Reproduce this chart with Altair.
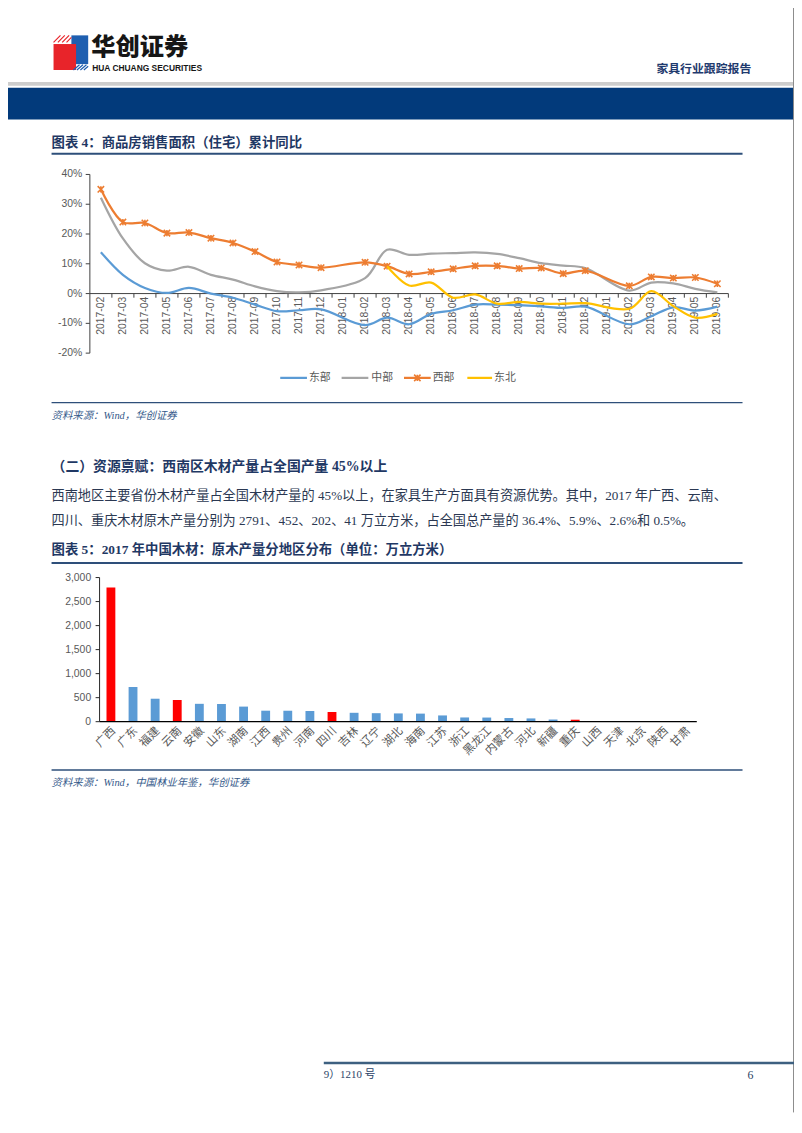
import altair as alt
import pandas as pd

# ---------------- data ----------------
months = ["2017-02", "2017-03", "2017-04", "2017-05", "2017-06", "2017-07", "2017-08",
          "2017-09", "2017-10", "2017-11", "2017-12", "2018-01", "2018-02", "2018-03",
          "2018-04", "2018-05", "2018-06", "2018-07", "2018-08", "2018-09", "2018-10",
          "2018-11", "2018-12", "2019-01", "2019-02", "2019-03", "2019-04", "2019-05",
          "2019-06"]
east = [13.9, 6.3, 1.9, 0.2, 1.9, 0.0, -1.4, -3.7, -5.9, -5.6, -5.3,
        None, -10.6, -8.1, -10.3, -6.8, -5.6, -3.7, -3.7, -3.9, -4.3, -4.8, -4.4,
        None, -10.3, -7.6, -4.6, -5.7, -4.4]
central = [32.2, 18.5, 10.2, 7.7, 9.0, 6.3, 4.7, 2.4, 0.8, 0.4, 1.1,
           None, 5.2, 14.7, 13.0, 13.4, 13.6, 13.8, 13.3, 11.9, 10.2, 9.4, 8.6,
           None, 1.0, 3.7, 3.4, 1.6, 0.4]
west = [35.0, 24.0, 23.7, 20.3, 20.5, 18.6, 17.0, 14.1, 10.6, 9.6, 8.7,
        None, 10.5, 9.2, 6.6, 7.3, 8.3, 9.3, 9.3, 8.4, 8.6, 6.7, 7.7,
        None, 2.6, 5.6, 5.2, 5.4, 3.3]
northeast = [None, None, None, None, None, None, None, None, None, None, None,
             None, None, 9.2, 2.7, 3.7, -1.4, -0.3, -3.4, -2.8, -3.4, -3.4, -3.2,
             None, -5.1, 0.8, -4.2, -8.1, -6.8]
series_names = ["东部", "中部", "西部", "东北"]
series_colors = ["#5b9bd5", "#a5a5a5", "#ed7d31", "#ffc000"]
pct_ticks = [-20, -10, 0, 10, 20, 30, 40]
pct_labels = ["-20%", "-10%", "0%", "10%", "20%", "30%", "40%"]

regions = ["广西", "广东", "福建", "云南", "安徽", "山东", "湖南", "江西", "贵州", "河南",
           "四川", "吉林", "辽宁", "湖北", "海南", "江苏", "浙江", "黑龙江", "内蒙古", "河北",
           "新疆", "重庆", "山西", "天津", "北京", "陕西", "甘肃"]
output = [2791, 722, 478, 452, 372, 368, 314, 229, 228, 222,
          202, 185, 177, 172, 168, 130, 88, 86, 76, 68,
          45, 41, 12, 3, 2, 1, 0.5]
highlight = ["广西", "云南", "四川", "重庆"]
vol_ticks = [0, 500, 1000, 1500, 2000, 2500, 3000]

# ---------------- helpers ----------------
OFF = 8  # page margin


def PX(v):
    return v - OFF


def PY(v):
    return v - OFF


one = pd.DataFrame({"k": [0]})
CJK = "Noto Sans CJK SC"
SERIF = "Liberation Serif, Noto Sans CJK SC"
NAVY = "#1f3864"


def txt(t, x, y, size=12, color="#000000", weight="normal", font=SERIF,
        align="left", style="normal", baseline="middle"):
    return alt.Chart(one).mark_text(
        text=t, fontSize=size, color=color, fontWeight=weight, font=font,
        align=align, baseline=baseline, fontStyle=style
    ).encode(x=alt.value(PX(x)), y=alt.value(PY(y)))


def hline(x1, x2, y, color, w=1.0):
    return alt.Chart(one).mark_rule(color=color, strokeWidth=w).encode(
        x=alt.value(PX(x1)), x2=alt.value(PX(x2)), y=alt.value(PY(y)))


def vline(x, y1, y2, color, w=1.0):
    return alt.Chart(one).mark_rule(color=color, strokeWidth=w).encode(
        x=alt.value(PX(x)), y=alt.value(PY(y1)), y2=alt.value(PY(y2)))


def box(x1, x2, y1, y2, color):
    return alt.Chart(one).mark_rect(color=color).encode(
        x=alt.value(PX(x1)), x2=alt.value(PX(x2)),
        y=alt.value(PY(y1)), y2=alt.value(PY(y2)))


def sym(path, x, y, size, color, filled=True, w=1.0):
    kw = dict(shape=path, size=size, opacity=1)
    if filled:
        kw.update(filled=True, fill=color, strokeWidth=0)
    else:
        kw.update(filled=False, stroke=color, strokeWidth=w)
    return alt.Chart(one).mark_point(**kw).encode(
        x=alt.value(PX(x)), y=alt.value(PY(y)))


STAR = "M-1,-1L1,1M-1,1L1,-1M0,-1L0,1"

# ---------------- page header ----------------
header = [
    sym("M0.03,-1 L1,-1 L1,0.66 L0.03,0.66 Z", 71.5, 47.5, 1225, "#1f5fb0"),
    sym("M-1,-0.5 L0.3,-0.5 L0.3,1 L-1,1 Z", 71.5, 47.5, 1225, "#e8242a"),
    sym("M-1,-0.6 L-0.6,-1 M-0.75,-0.6 L-0.35,-1 M-0.5,-0.6 L-0.1,-1 M-0.25,-0.6 L0.03,-0.88",
        71.5, 47.5, 1225, "#e8242a", filled=False, w=1.2),
    sym("M0.35,1 L0.7,0.7 M0.55,1 L0.9,0.7 M0.75,1 L1,0.78 M0.15,1 L0.5,0.7",
        71.5, 47.5, 1225, "#1f5fb0", filled=False, w=1.2),
    txt("华创证券", 92, 43, size=24.5, weight=900, font=CJK, color="#161616"),
    txt("HUA CHUANG SECURITIES", 93, 62.5, size=8.5, weight="bold",
        font="Liberation Sans Narrow, Liberation Sans", color="#161616"),
    txt("家具行业跟踪报告", 663, 64, size=12, weight="bold", color="#1f3a6e"),
    box(0, 802, 77, 81, "#cdcdcd"),
    box(0, 802, 83, 115, "#023a7b"),
    vline(801.5, 0, 1118, "#8c8c8c", 1),
]

# ---------------- figure 4 frame ----------------
frame1 = [
    txt("图表 4：商品房销售面积（住宅）累计同比", 52, 139, size=13.5, weight="bold", color=NAVY),
    hline(52, 750, 149.5, "#2e4f7a", 2),
    hline(52, 750, 401, "#2e4f7a", 1.5),
    txt("资料来源：Wind，华创证券", 52, 415, size=10.5, style="italic", color="#34598a"),
]

# ---------------- line chart ----------------
xs1 = alt.Scale(type="point", domain=months, range=[PX(90.7), PX(735.7)], padding=0.5)
ys1 = alt.Scale(domain=[-20, 40], range=[PY(351), PY(170.5)], nice=False, zero=False)

line_layers = []
for name, vals, col in zip(series_names, [east, central, west, northeast], series_colors):
    df = pd.DataFrame({"month": months, "value": vals}).dropna()
    line_layers.append(
        alt.Chart(df).mark_line(color=col, strokeWidth=2.25, interpolate="catmull-rom").encode(
            x=alt.X("month:N", scale=xs1, axis=None),
            y=alt.Y("value:Q", scale=ys1, axis=None),
        )
    )
    if name == "西部":
        line_layers.append(
            alt.Chart(df).mark_point(shape=STAR, size=42, filled=False, stroke=col,
                                     strokeWidth=1.6, opacity=1).encode(
                x=alt.X("month:N", scale=xs1, axis=None),
                y=alt.Y("value:Q", scale=ys1, axis=None),
            )
        )

tick_df1 = pd.DataFrame({"v": pct_ticks, "lab": pct_labels})
mon_df = pd.DataFrame({"month": months})
AX = "#404040"
axis1 = [
    alt.Chart(one).mark_rule(color=AX, strokeWidth=1).encode(
        x=alt.value(PX(90.7)), y=alt.value(PY(170.5)), y2=alt.value(PY(351))),
    alt.Chart(one).mark_rule(color=AX, strokeWidth=1).encode(
        x=alt.value(PX(90.7)), x2=alt.value(PX(735.7)), y=alt.Y("k:Q", scale=ys1, axis=None)),
    alt.Chart(tick_df1).mark_rule(color=AX, strokeWidth=1).encode(
        y=alt.Y("v:Q", scale=ys1, axis=None), x=alt.value(PX(86.5)), x2=alt.value(PX(90.7))),
    alt.Chart(tick_df1).mark_text(align="right", baseline="middle", fontSize=10.5,
                                  font="Liberation Sans", color="#595959").encode(
        y=alt.Y("v:Q", scale=ys1, axis=None), x=alt.value(PX(83)), text="lab:N"),
    alt.Chart(mon_df).mark_rule(color=AX, strokeWidth=1, xOffset=11.12).encode(
        x=alt.X("month:N", scale=xs1, axis=None),
        y=alt.value(PY(290.8)), y2=alt.value(PY(295))),
    alt.Chart(mon_df).mark_text(angle=270, align="right", baseline="middle", fontSize=10.5,
                                font="Liberation Sans", color="#595959").encode(
        x=alt.X("month:N", scale=xs1, axis=None), y=alt.value(PY(294)), text="month:N"),
]

legend_pos = [(283, 310, 312), (345, 372, 375), (408, 435, 437), (472, 497, 499)]
legend1 = []
for name, col, (a, b, t) in zip(series_names, series_colors, legend_pos):
    legend1.append(hline(a, b, 376, col, 2.25))
    if name == "西部":
        legend1.append(sym(STAR, (a + b) / 2, 376, 42, col, filled=False, w=1.6))
    legend1.append(txt(name, t, 376.5, size=11, font=CJK, color="#595959"))

line_chart = alt.layer(*axis1, *line_layers)

# ---------------- section text ----------------
section = [
    txt("（二）资源禀赋：西南区木材产量占全国产量 45%以上", 52, 466, size=14,
        weight="bold", color=NAVY),
    txt("西南地区主要省份木材产量占全国木材产量的 45%以上，在家具生产方面具有资源优势。其中，2017 年广西、云南、",
        52, 495, size=13.3, color="#2b3852"),
    txt("四川、重庆木材原木产量分别为 2791、452、202、41 万立方米，占全国总产量的 36.4%、5.9%、2.6%和 0.5%。",
        52, 521, size=13.3, color="#2b3852"),
    txt("图表 5：2017 年中国木材：原木产量分地区分布（单位：万立方米）", 52, 550, size=13.5,
        weight="bold", color=NAVY),
    hline(52, 750, 563, "#2e4f7a", 2),
    hline(52, 750, 772, "#2e4f7a", 1.5),
    txt("资料来源：Wind，中国林业年鉴，华创证券", 52, 785, size=10.5, style="italic", color="#34598a"),
    hline(327, 802, 1068, "#3d6080", 2.5),
    txt("9）1210 号", 327, 1080, size=11, color="#2b3f66"),
    txt("6", 755, 1080, size=12, color="#2b3f66"),
]

# ---------------- bar chart ----------------
xs2 = alt.Scale(type="band", domain=regions, range=[PX(100.8), PX(703.8)],
                paddingInner=0.6, paddingOuter=0.3)
ys2 = alt.Scale(domain=[0, 3000], range=[PY(723.3), PY(577.7)], nice=False, zero=False)
bar_df = pd.DataFrame({"region": regions, "value": output})
vt_df = pd.DataFrame({"v": vol_ticks})

bar_color = alt.when(alt.FieldOneOfPredicate(field="region", oneOf=highlight)).then(
    alt.value("#ff0000")).otherwise(alt.value("#5b9bd5"))

bars = alt.Chart(bar_df).mark_bar().encode(
    x=alt.X("region:N", scale=xs2, axis=None),
    y=alt.Y("value:Q", scale=ys2, axis=None),
    y2=alt.value(PY(723.3)),
    color=bar_color,
)
bar_axis = [
    alt.Chart(one).mark_rule(color="#262626", strokeWidth=1).encode(
        x=alt.value(PX(100.5)), y=alt.value(PY(577.7)), y2=alt.value(PY(723.3))),
    alt.Chart(one).mark_rule(color="#000000", strokeWidth=1.3).encode(
        x=alt.value(PX(100.5)), x2=alt.value(PX(703.8)), y=alt.value(PY(723.3))),
    alt.Chart(vt_df).mark_rule(color="#262626", strokeWidth=1).encode(
        y=alt.Y("v:Q", scale=ys2, axis=None), x=alt.value(PX(96.5)), x2=alt.value(PX(100.5))),
    alt.Chart(vt_df).mark_text(align="right", baseline="middle", fontSize=10.5,
                               font="Liberation Sans", color="#595959").encode(
        y=alt.Y("v:Q", scale=ys2, axis=None), x=alt.value(PX(92)),
        text=alt.Text("v:Q", format=",")),
    alt.Chart(bar_df).mark_text(angle=315, align="right", baseline="middle", fontSize=11.5,
                                font=CJK, color="#595959", xOffset=3).encode(
        x=alt.X("region:N", scale=xs2, axis=None), y=alt.value(PY(731)), text="region:N"),
]
bar_chart = alt.layer(bars, *bar_axis)

chart = alt.layer(
    *header, *frame1, *legend1, *section, line_chart, bar_chart
).resolve_scale(x="independent", y="independent").properties(
    width=794, height=1110, padding=0,
    autosize=alt.AutoSizeParams(type="none"),
).configure_view(stroke=None)

chart.save("out.html", embed_options={"renderer": "svg", "actions": False})
